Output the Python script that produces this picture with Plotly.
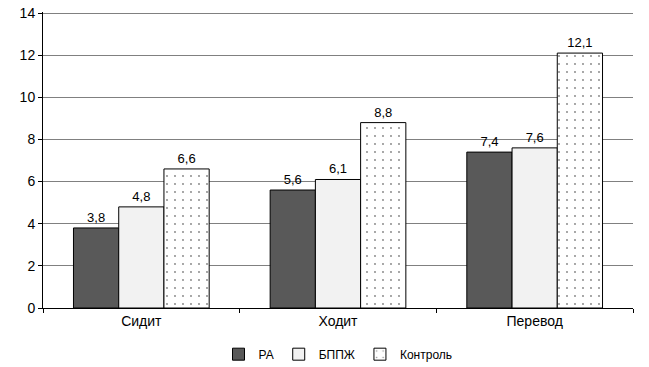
import plotly.graph_objects as go

categories = ["Сидит", "Ходит", "Перевод"]
ra = [3.8, 5.6, 7.4]
bppzh = [4.8, 6.1, 7.6]
control = [6.6, 8.8, 12.1]
y_ticks = [0, 2, 4, 6, 8, 10, 12, 14]

def fmt(v):
    return [f"{x:.1f}".replace(".", ",") for x in v]

family = "Liberation Sans, Arial, sans-serif"
font = dict(family=family, size=13, color="black")

fig = go.Figure()
fig.add_bar(name="РА", x=categories, y=ra, text=fmt(ra),
            marker=dict(color="#595959", line=dict(color="black", width=1)))
fig.add_bar(name="БППЖ", x=categories, y=bppzh, text=fmt(bppzh),
            marker=dict(color="#f2f2f2", line=dict(color="black", width=1)))
fig.add_bar(name="Контроль", x=categories, y=control, text=fmt(control),
            marker=dict(color="white", line=dict(color="black", width=1),
                        pattern=dict(shape=".", fgcolor="black", bgcolor="white",
                                     size=8, solidity=0.04)))
fig.update_traces(textposition="outside", cliponaxis=False,
                  textfont=dict(family=family, size=13, color="black"))

fig.update_layout(
    width=649, height=367,
    margin=dict(l=43, r=16, t=12, b=59, autoexpand=False),
    paper_bgcolor="white", plot_bgcolor="white",
    font=font,
    barmode="group", bargap=0.31, bargroupgap=0,
    showlegend=True,
    legend=dict(orientation="h", x=0.5, xanchor="center", y=-0.156, yanchor="middle",
                font=dict(size=12), itemwidth=30, traceorder="normal",
                tracegroupgap=0),
    xaxis=dict(showline=True, linecolor="black", linewidth=1, ticks="outside",
               tickson="boundaries", ticklen=4, tickcolor="black",
               showgrid=False, tickfont=dict(size=14)),
    yaxis=dict(range=[0, 14.05], tickvals=y_ticks, showline=True, linecolor="black",
               linewidth=1, ticks="outside", ticklen=4, tickcolor="black",
               showgrid=True, gridcolor="#808080", gridwidth=1,
               zeroline=False, tickfont=dict(size=14), ticklabeloverflow="allow"),
)
fig.write_html("out.html", config={"displayModeBar": False},
               post_script="document.body.style.margin='0';")
